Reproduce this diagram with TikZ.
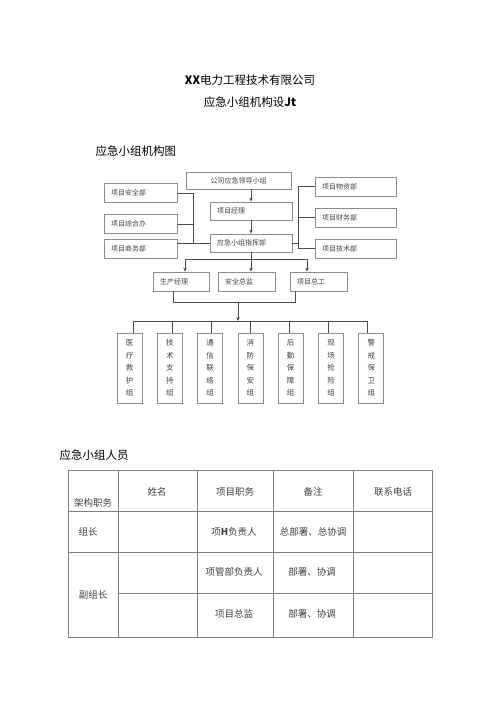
\documentclass[tikz,border=0pt]{standalone}
\usepackage{fontspec}
\setmainfont{Noto Sans CJK SC}
\usetikzlibrary{arrows.meta,positioning}

\definecolor{boxgray}{gray}{0.55}
\definecolor{linegray}{gray}{0.3}
\definecolor{tabgray}{gray}{0.5}
\definecolor{txtgray}{gray}{0.25}

\begin{document}
\begin{tikzpicture}[x=1pt,y=-1pt]
		\tikzstyle{Box}		= [draw=boxgray, line width=0.8pt, inner ysep=0pt, inner xsep=7pt, align=left, text=txtgray, font=\fontsize{7}{8}\selectfont]
		\tikzstyle{LeftBox}	= [Box, text width=59pt, minimum height=19pt]
		\tikzstyle{MidBox}	= [Box, text width=68pt, minimum height=18pt]
		\tikzstyle{RightBox}	= [Box, text width=67pt, minimum height=19pt]
		\tikzstyle{RowBox}	= [Box, text width=42pt, minimum height=19pt]
		\tikzstyle{Group}	= [Box, inner xsep=0pt, align=center, minimum width=25pt, minimum height=70pt, font=\fontsize{7.5}{12.5}\selectfont]
		\tikzstyle{Line}	= [draw=linegray, line width=0.8pt]
		\tikzstyle{Arr}		= [Line, -{Stealth[length=4pt,width=3.5pt]}]
		\tikzstyle{Cell}	= [text=txtgray, font=\fontsize{9.5}{11}\selectfont]
		\tikzstyle{Grid}	= [draw=tabgray, line width=0.8pt]
		
		\useasboundingbox (0,0) rectangle (500,707);
		
		% titles
		\node (t1) at (250,80) [font=\fontsize{11.5}{13}\selectfont] {\textbf{XX}电力工程技术有限公司};
		\node (t2) at (250,102) [font=\fontsize{11.5}{13}\selectfont] {应急小组机构设\textbf{Jt}};
		\node (s1) at (92,151) [anchor=west, font=\fontsize{11.5}{13}\selectfont] {应急小组机构图};
		
		% chart
		\node (lead) at (238.5,180.5) [Box, align=center, minimum width=105pt, minimum height=17pt] {公司应急领导小组};
		\node (jingli) at (251,211) [MidBox] {项目经理};
		\node (zhihui) at (251,243) [MidBox] {应急小组指挥部};
		\node (anquan) at (140.5,193) [LeftBox] {项目安全部};
		\node (zonghe) at (140.5,224) [LeftBox] {项目综合办};
		\node (shangwu) at (140.5,248.5) [LeftBox] {项目商务部};
		\node (wuzi) at (355.5,186.5) [RightBox] {项目物资部};
		\node (caiwu) at (355.5,217.5) [RightBox] {项目财务部};
		\node (jishu) at (355.5,248.5) [RightBox] {项目技术部};
		\node (shengchan) at (181,281.5) [RowBox] {生产经理};
		\node (zongjian) at (246.5,281.5) [RowBox, text width=43pt] {安全总监};
		\node (zonggong) at (318.5,281.5) [RowBox, text width=43pt] {项目总工};
		
		\coordinate (lx) at (193,0);
		\coordinate (rx) at (298,0);
		\coordinate (b1) at (185,259);
		\coordinate (b2) at (251,259);
		\coordinate (b3) at (307,259);
		\coordinate (m1) at (173,302);
		\coordinate (m2) at (295,302);
		\coordinate (m0) at (238,302);
		
		\draw [Arr] (jingli.north |- lead.south) to (jingli.north);
		\draw [Arr] (jingli.south) to (zhihui.north);
		
		\draw [Line] (anquan.east) -| (lx |- zhihui.west) -- (zhihui.west);
		\draw [Line] (zonghe.east) -- (lx |- zonghe.east);
		\draw [Line] (shangwu.east |- zhihui.west) -- (lx |- zhihui.west);
		\draw [Line] (wuzi.west) -| (rx |- jishu.west) -- (jishu.west);
		\draw [Line] (caiwu.west) -- (rx |- caiwu.west);
		\draw [Line] (zhihui.east) -- (rx |- zhihui.east);
		
		\draw [Line] (zhihui.south) -- (b2);
		\draw [Line] (b1) -- (b3);
		\draw [Arr] (b1) -- (b1 |- shengchan.north);
		\draw [Arr] (b2) -- (b2 |- zongjian.north);
		\draw [Arr] (b3) -- (b3 |- zonggong.north);
		
		\draw [Line] (m1 |- shengchan.south) -- (m1) -- (m2) -- (m2 |- zonggong.south);
		
		\foreach \i/\name/\txt in {0/yiliao/医\\疗\\救\\护\\组, 1/jishuzhichi/技\\术\\支\\持\\组, 2/tongxin/通\\信\\联\\络\\组, 3/xiaofang/消\\防\\保\\安\\组, 4/houqin/后\\勤\\保\\障\\组, 5/xianchang/现\\场\\抢\\险\\组, 6/jingjie/警\\戒\\保\\卫\\组} {
			\node (\name) at (129.5+40.3*\i,368) [Group] {\txt};
			\draw [Line] (133+39*\i,321) -- (133+39*\i,0 |- \name.north);
		}
		\coordinate (g0) at (133,321);
		\coordinate (g6) at (367,321);
		\draw [Line] (g0) -- (g6);
		\draw [Arr] (m0) -- (m0 |- g0);
		
		% table
		\node (s2) at (56,455) [anchor=west, font=\fontsize{11.5}{13}\selectfont] {应急小组人员};
		\draw [Grid] (68,470) rectangle (432,637);
		\foreach \x in {118,197,273,353} \draw [Grid] (\x,470) -- (\x,637);
		\draw [Grid] (68,511) -- (432,511);
		\draw [Grid] (68,552) -- (432,552);
		\draw [Grid] (118,593) -- (432,593);
		
		\node (h0) at (93,503) [Cell] {架构职务};
		\node (h1) at (157,492) [Cell] {姓名};
		\node (h2) at (235,492) [Cell] {项目职务};
		\node (h3) at (313,492) [Cell] {备注};
		\node (h4) at (393,492) [Cell] {联系电话};
		\node (r1a) at (88,532) [Cell] {组长};
		\node (r1b) at (234,532) [Cell] {项\textbf{H}负责人};
		\node (r1c) at (313,532) [Cell] {总部署、总协调};
		\node (r2a) at (93,595) [Cell] {副组长};
		\node (r2b) at (234,572) [Cell] {项管部负责人};
		\node (r2c) at (312,572) [Cell] {部署、协调};
		\node (r3b) at (234,614) [Cell] {项目总监};
		\node (r3c) at (312,614) [Cell] {部署、协调};
	\end{tikzpicture}
\end{document}
